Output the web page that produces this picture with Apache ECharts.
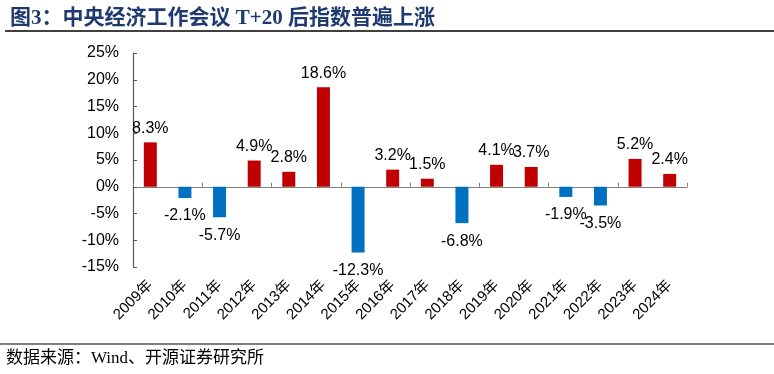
<!DOCTYPE html>
<html>
<head>
<meta charset="utf-8">
<script src="https://cdn.jsdelivr.net/npm/echarts@6/dist/echarts.min.js"></script>
<style>html,body{margin:0;padding:0;background:#fff;}#c{width:774px;height:374px;}</style>
</head>
<body>
<div id="c"></div>
<script>
const categories = ['2009年','2010年','2011年','2012年','2013年','2014年','2015年','2016年','2017年','2018年','2019年','2020年','2021年','2022年','2023年','2024年'];
const values = [8.3, -2.1, -5.7, 4.9, 2.8, 18.6, -12.3, 3.2, 1.5, -6.8, 4.1, 3.7, -1.9, -3.5, 5.2, 2.4];
const yTicks = {min: -15, max: 25, interval: 5};
const titleText = '图3：中央经济工作会议 T+20 后指数普遍上涨';
const sourceText = '数据来源：Wind、开源证券研究所';

const RED = '#C00000', BLUE = '#0070C0';
const chart = echarts.init(document.getElementById('c'), null, {renderer: 'canvas'});
const barData = values.map(v => ({
  value: v,
  itemStyle: {color: v >= 0 ? RED : BLUE},
  label: v >= 0 ? {position: 'top', distance: 6} : {position: 'bottom', distance: 10}
}));
chart.setOption({
  animation: false,
  backgroundColor: '#fff',
  title: {
    text: titleText, left: 5, top: 3,
    textStyle: {fontSize: 21, fontWeight: 'bold', color: '#1F3A70', fontFamily: "'Liberation Serif','Noto Sans CJK SC'"}
  },
  graphic: [
    {type: 'line', shape: {x1: 5, y1: 31, x2: 774, y2: 31}, style: {stroke: '#000', lineWidth: 1.5}},
    {type: 'line', shape: {x1: 0, y1: 344, x2: 774, y2: 344}, style: {stroke: '#000', lineWidth: 1.2}},
    {type: 'text', left: 6, top: 350, style: {text: sourceText, fontSize: 17, fill: '#000', fontFamily: "'Liberation Serif','Noto Sans CJK SC'"}}
  ],
  grid: {left: 133, right: 87, top: 53, bottom: 107, containLabel: false},
  xAxis: [
    {
      type: 'category', data: categories, boundaryGap: true,
      axisLine: {show: true, onZero: true, lineStyle: {color: '#7f7f7f', width: 1.2}},
      axisTick: {show: true, inside: true, length: 4, alignWithLabel: false, lineStyle: {color: '#7f7f7f'}},
      axisLabel: {show: false},
      splitLine: {show: false}
    },
    {
      type: 'category', data: categories, boundaryGap: true, position: 'bottom',
      axisLine: {show: false, onZero: false},
      axisTick: {show: false},
      axisLabel: {show: true, rotate: 45, interval: 0, margin: 16, fontSize: 15, color: '#000', fontFamily: "'Liberation Sans','Noto Sans CJK SC'"},
      splitLine: {show: false}
    }
  ],
  yAxis: {
    type: 'value', min: yTicks.min, max: yTicks.max, interval: yTicks.interval,
    axisLine: {show: true, lineStyle: {color: '#595959', width: 1.2}},
    axisTick: {show: true, inside: true, length: 4, lineStyle: {color: '#595959'}},
    axisLabel: {formatter: '{value}%', fontSize: 16, color: '#000', margin: 14, fontFamily: "'Liberation Sans',Arial"},
    splitLine: {show: false}
  },
  series: [{
    type: 'bar', xAxisIndex: 0, data: barData, barWidth: 13,
    label: {show: true, fontSize: 16, color: '#000', fontFamily: "'Liberation Sans',Arial",
      formatter: p => p.value.toFixed(1) + '%'}
  }]
});
</script>
</body>
</html>
